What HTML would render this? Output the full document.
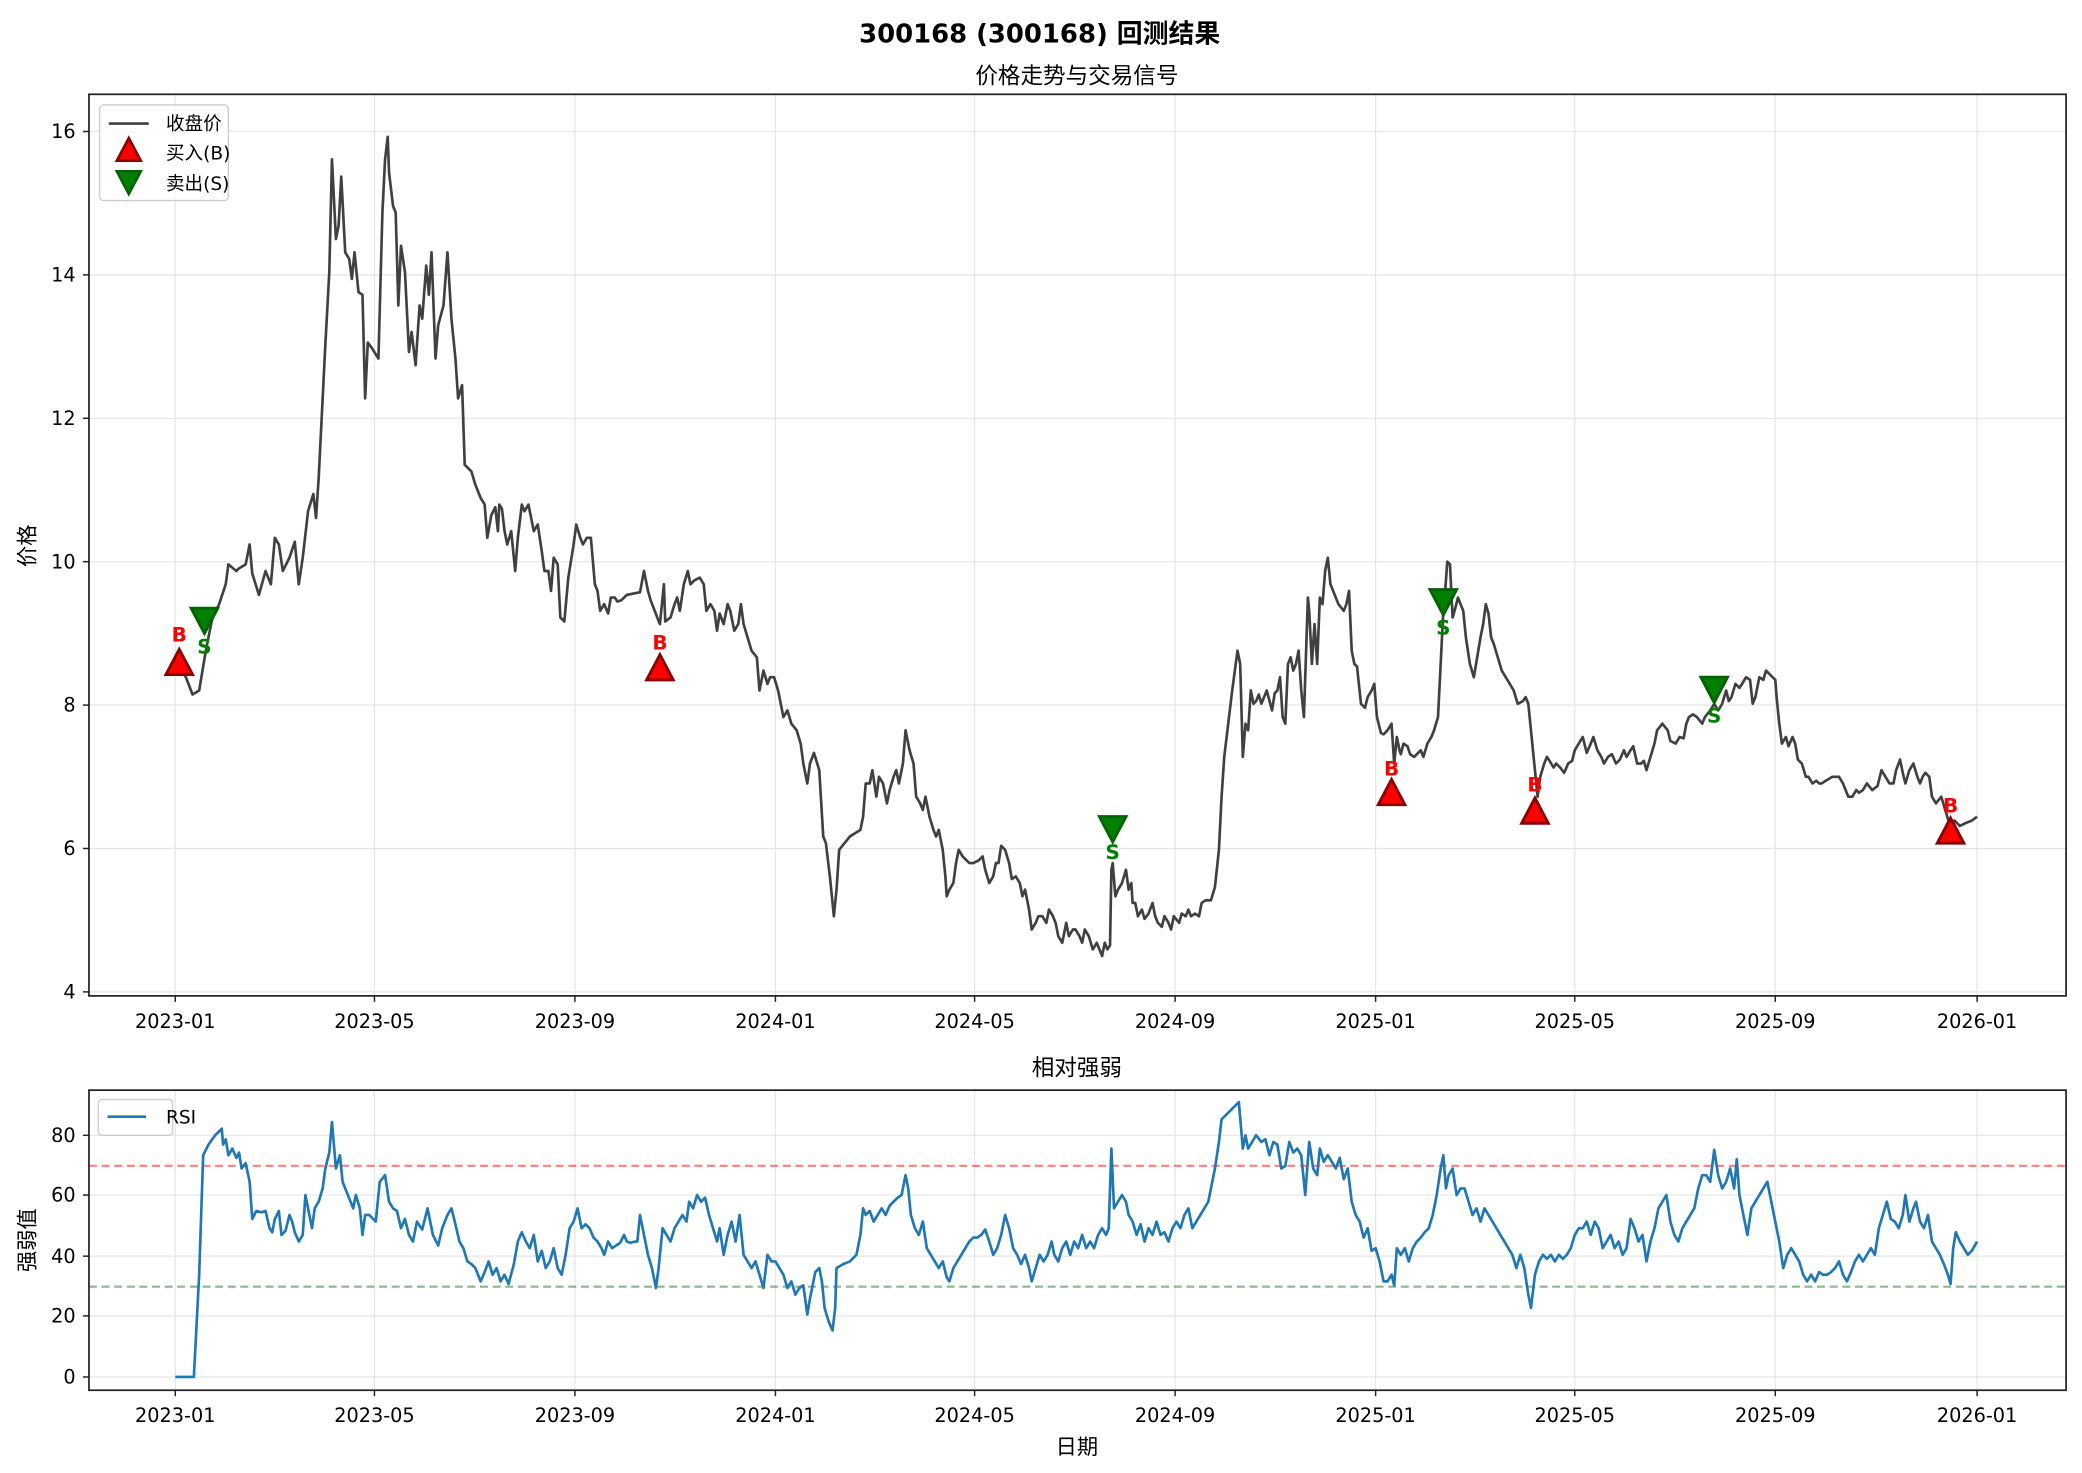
<!DOCTYPE html>
<html><head><meta charset="utf-8"><style>html,body{margin:0;padding:0;background:#fff}svg{display:block}</style></head><body>
<svg width="2082" height="1473" viewBox="0 0 1568 1109.3" xmlns="http://www.w3.org/2000/svg" font-family="'DejaVu Sans','Liberation Sans','Noto Sans CJK SC',sans-serif">
<rect width="1568" height="1110" fill="#fff"/>
<text x="783" y="32" font-size="19.5" font-weight="bold" text-anchor="middle">300168 (300168) 回测结果</text>
<text x="811" y="63" font-size="17" text-anchor="middle">价格走势与交易信号</text>
<g stroke="#e6e6e6" stroke-width="0.9">
<line x1="132" y1="71" x2="132" y2="750"/><line x1="282" y1="71" x2="282" y2="750"/><line x1="433" y1="71" x2="433" y2="750"/><line x1="584" y1="71" x2="584" y2="750"/><line x1="734" y1="71" x2="734" y2="750"/><line x1="885" y1="71" x2="885" y2="750"/><line x1="1036" y1="71" x2="1036" y2="750"/><line x1="1186" y1="71" x2="1186" y2="750"/><line x1="1337" y1="71" x2="1337" y2="750"/><line x1="1489" y1="71" x2="1489" y2="750"/>
<line x1="67" y1="747" x2="1556" y2="747"/><line x1="67" y1="639" x2="1556" y2="639"/><line x1="67" y1="531" x2="1556" y2="531"/><line x1="67" y1="423" x2="1556" y2="423"/><line x1="67" y1="315" x2="1556" y2="315"/><line x1="67" y1="207" x2="1556" y2="207"/><line x1="67" y1="99" x2="1556" y2="99"/>
<line x1="132" y1="821" x2="132" y2="1047"/><line x1="282" y1="821" x2="282" y2="1047"/><line x1="433" y1="821" x2="433" y2="1047"/><line x1="584" y1="821" x2="584" y2="1047"/><line x1="734" y1="821" x2="734" y2="1047"/><line x1="885" y1="821" x2="885" y2="1047"/><line x1="1036" y1="821" x2="1036" y2="1047"/><line x1="1186" y1="821" x2="1186" y2="1047"/><line x1="1337" y1="821" x2="1337" y2="1047"/><line x1="1489" y1="821" x2="1489" y2="1047"/>
<line x1="67" y1="1037" x2="1556" y2="1037"/><line x1="67" y1="991" x2="1556" y2="991"/><line x1="67" y1="946" x2="1556" y2="946"/><line x1="67" y1="900" x2="1556" y2="900"/><line x1="67" y1="855" x2="1556" y2="855"/>
</g>
<polyline fill="none" stroke="#404040" stroke-width="2" stroke-linejoin="round" points="132,498 140,510 145,523 150,520 155,490 160,465 165,455 170,440 172,425 178,430 180,428 185,425 188,410 190,432 195,448 200,430 204,440 207,405 210,410 213,430 218,420 222,408 225,440 228,420 232,385 236,372 238,390 240,360 245,260 248,205 250,120 253,180 255,170 257,133 260,190 263,195 265,210 267,190 270,220 273,222 275,300 277,258 280,262 285,270 288,160 290,120 292,103 293,130 296,155 298,160 300,230 302,185 305,205 308,265 310,250 313,275 316,230 318,240 321,200 323,222 325,190 328,270 330,245 334,230 337,190 340,240 343,270 345,300 348,290 350,350 352,352 355,355 358,365 362,375 365,380 367,405 370,388 373,382 375,400 376,380 378,383 380,400 382,410 385,400 388,430 390,405 393,380 395,385 398,380 400,390 402,400 405,395 408,415 410,430 413,430 415,445 417,420 420,425 422,465 425,468 428,435 432,410 434,395 437,405 439,410 442,405 445,405 448,440 450,445 452,460 455,455 458,462 460,450 463,450 465,453 468,452 472,448 482,446 485,430 488,445 490,452 495,465 497,470 500,440 501,468 505,465 508,455 510,450 512,460 515,440 518,430 520,440 523,437 527,435 530,440 532,460 535,455 538,460 540,475 542,462 545,470 548,455 550,460 553,475 556,470 558,455 560,470 563,480 566,490 570,495 572,520 575,505 578,515 580,510 583,510 586,520 590,540 593,535 596,545 600,550 603,560 605,575 608,590 610,575 613,567 617,580 620,630 622,635 625,660 628,690 630,670 632,640 640,630 648,625 650,615 652,590 655,590 657,580 660,600 662,585 665,590 668,605 670,595 673,585 675,580 677,590 680,575 682,550 685,565 688,575 690,600 693,605 695,610 697,600 700,615 703,625 705,630 707,625 710,640 712,660 713,675 715,670 718,665 720,650 722,640 725,645 728,648 730,650 733,650 737,648 740,645 742,655 745,665 748,660 750,650 752,650 754,637 757,640 760,650 762,662 765,660 768,665 770,675 772,670 775,685 777,700 780,695 782,690 785,690 788,695 790,685 793,690 795,695 797,705 800,710 803,695 805,705 808,700 810,700 813,705 815,710 817,700 820,705 823,715 826,710 828,715 830,720 832,710 834,715 836,712 837,655 838,650 840,675 842,670 845,665 848,655 850,670 852,665 853,680 855,680 857,690 860,685 862,692 865,688 868,680 870,690 872,695 875,698 877,690 880,695 882,700 884,690 888,695 890,688 893,690 895,685 897,690 900,688 903,690 905,680 908,678 912,678 915,668 918,640 920,600 922,570 925,545 928,520 932,490 934,500 936,570 938,545 940,550 942,520 944,530 946,528 948,523 950,530 952,525 954,520 958,535 960,522 962,520 964,510 966,540 968,545 970,500 972,495 974,505 976,500 978,490 980,520 982,540 985,450 986,460 988,500 990,470 992,500 994,450 996,455 998,430 1000,420 1002,440 1004,445 1006,450 1008,455 1012,460 1014,455 1016,445 1018,490 1020,500 1022,502 1025,530 1028,533 1030,525 1033,520 1035,515 1037,540 1040,552 1042,553 1045,550 1048,545 1050,575 1052,555 1054,565 1055,568 1057,560 1060,562 1062,568 1065,570 1068,567 1070,565 1072,570 1075,560 1078,555 1080,550 1083,540 1084,520 1086,480 1087,460 1088,450 1090,423 1092,425 1094,465 1096,458 1098,450 1100,455 1102,460 1104,480 1107,500 1110,510 1112,498 1115,480 1117,470 1119,455 1121,462 1123,480 1125,485 1128,495 1131,505 1134,510 1137,515 1140,520 1143,530 1147,528 1149,525 1151,530 1154,560 1156,580 1158,600 1160,585 1163,575 1165,570 1167,573 1170,578 1172,575 1175,578 1178,582 1181,575 1184,573 1186,565 1189,560 1192,555 1195,567 1198,560 1200,555 1203,565 1206,570 1208,575 1211,570 1214,568 1217,575 1220,572 1223,565 1225,570 1228,565 1230,562 1233,575 1236,575 1238,573 1240,580 1243,570 1246,560 1248,550 1252,545 1256,550 1258,558 1262,560 1265,555 1268,556 1270,545 1272,540 1275,538 1278,540 1282,545 1284,540 1288,535 1291,530 1294,535 1297,530 1300,520 1302,528 1304,525 1307,515 1310,518 1312,515 1315,510 1318,512 1320,530 1322,525 1325,510 1328,512 1330,505 1333,508 1337,512 1338,525 1340,545 1342,560 1345,555 1347,562 1350,555 1352,560 1354,572 1357,575 1360,585 1362,585 1365,590 1368,588 1370,590 1372,590 1375,588 1380,585 1385,585 1388,590 1390,595 1392,600 1395,600 1398,595 1400,597 1403,595 1406,590 1410,595 1414,592 1417,580 1420,585 1423,590 1426,590 1428,580 1431,572 1433,582 1435,590 1438,580 1441,575 1444,585 1446,590 1448,585 1450,582 1453,585 1455,600 1458,605 1462,600 1465,610 1468,620 1472,618 1476,622 1480,620 1485,618 1489,615"/>
<g stroke="#8b0000" stroke-width="2.2" fill="#ff0000">
<polygon points="135,489 125,508 145,508"/><polygon points="497,493 487,512 507,512"/><polygon points="1048,587 1038,606 1058,606"/><polygon points="1156,601 1146,620 1166,620"/><polygon points="1469,616 1459,635 1479,635"/>
</g>
<g stroke="#006400" stroke-width="2.2" fill="#008000">
<polygon points="144,458 164,458 154,477"/><polygon points="828,615 848,615 838,634"/><polygon points="1077,444 1097,444 1087,463"/><polygon points="1281,510 1301,510 1291,529"/>
</g>
<g font-size="15" font-weight="bold" text-anchor="middle" fill="#ff0000">
<text x="135" y="483">B</text><text x="497" y="489">B</text><text x="1048" y="584">B</text><text x="1156" y="596">B</text><text x="1469" y="612">B</text>
</g>
<g font-size="15" font-weight="bold" text-anchor="middle" fill="#008000">
<text x="154" y="492">S</text><text x="838" y="647">S</text><text x="1087" y="478">S</text><text x="1291" y="544">S</text>
</g>
<rect x="67" y="71" width="1489" height="679" fill="none" stroke="#222" stroke-width="1.3"/>
<g font-size="14.5" text-anchor="end">
<text x="57" y="752">4</text><text x="57" y="644">6</text><text x="57" y="536">8</text><text x="57" y="428">10</text><text x="57" y="320">12</text><text x="57" y="212">14</text><text x="57" y="104">16</text>
</g>
<g stroke="#222" stroke-width="1.1"><line x1="62.5" y1="747" x2="67" y2="747"/><line x1="62.5" y1="639" x2="67" y2="639"/><line x1="62.5" y1="531" x2="67" y2="531"/><line x1="62.5" y1="423" x2="67" y2="423"/><line x1="62.5" y1="315" x2="67" y2="315"/><line x1="62.5" y1="207" x2="67" y2="207"/><line x1="62.5" y1="99" x2="67" y2="99"/>
<line x1="132" y1="750" x2="132" y2="754.5"/><line x1="282" y1="750" x2="282" y2="754.5"/><line x1="433" y1="750" x2="433" y2="754.5"/><line x1="584" y1="750" x2="584" y2="754.5"/><line x1="734" y1="750" x2="734" y2="754.5"/><line x1="885" y1="750" x2="885" y2="754.5"/><line x1="1036" y1="750" x2="1036" y2="754.5"/><line x1="1186" y1="750" x2="1186" y2="754.5"/><line x1="1337" y1="750" x2="1337" y2="754.5"/><line x1="1489" y1="750" x2="1489" y2="754.5"/>
<line x1="132" y1="1047" x2="132" y2="1051.5"/><line x1="282" y1="1047" x2="282" y2="1051.5"/><line x1="433" y1="1047" x2="433" y2="1051.5"/><line x1="584" y1="1047" x2="584" y2="1051.5"/><line x1="734" y1="1047" x2="734" y2="1051.5"/><line x1="885" y1="1047" x2="885" y2="1051.5"/><line x1="1036" y1="1047" x2="1036" y2="1051.5"/><line x1="1186" y1="1047" x2="1186" y2="1051.5"/><line x1="1337" y1="1047" x2="1337" y2="1051.5"/><line x1="1489" y1="1047" x2="1489" y2="1051.5"/></g>
<g font-size="14.5" text-anchor="middle">
<text x="132" y="774">2023-01</text><text x="282" y="774">2023-05</text><text x="433" y="774">2023-09</text><text x="584" y="774">2024-01</text><text x="734" y="774">2024-05</text><text x="885" y="774">2024-09</text><text x="1036" y="774">2025-01</text><text x="1186" y="774">2025-05</text><text x="1337" y="774">2025-09</text><text x="1489" y="774">2026-01</text>
</g>
<text transform="translate(26,411) rotate(-90)" font-size="16" text-anchor="middle">价格</text>
<rect x="75" y="79" width="97" height="72" rx="3" fill="#fff" fill-opacity="0.8" stroke="#ccc"/>
<line x1="82" y1="93" x2="112" y2="93" stroke="#404040" stroke-width="2"/>
<polygon points="97,104 88,121 106,121" fill="#ff0000" stroke="#8b0000" stroke-width="2"/>
<polygon points="88,129 106,129 97,146" fill="#008000" stroke="#006400" stroke-width="2"/>
<g font-size="14"><text x="125" y="98">收盘价</text><text x="125" y="120">买入(B)</text><text x="125" y="143">卖出(S)</text></g>
<text x="811" y="810" font-size="17" text-anchor="middle">相对强弱</text>
<line x1="67" y1="878" x2="1556" y2="878" stroke="#ff0000" stroke-opacity="0.5" stroke-width="1.6" stroke-dasharray="6,3.5"/>
<line x1="67" y1="969" x2="1556" y2="969" stroke="#008000" stroke-opacity="0.5" stroke-width="1.6" stroke-dasharray="6,3.5"/>
<polyline fill="none" stroke="#1f77b4" stroke-width="2" stroke-linejoin="round" points="132,1037 146,1037 150,960 153,870 157,862 162,855 167,850 168,862 170,858 172,870 175,865 178,872 180,868 182,880 185,876 188,890 190,918 193,912 197,913 200,912 203,925 205,928 207,918 210,912 212,930 215,927 218,915 220,920 222,928 225,935 228,930 230,900 233,915 235,925 237,910 240,905 243,895 245,880 248,868 250,845 253,880 256,870 258,890 262,900 266,910 268,900 271,910 273,930 275,915 278,915 283,920 286,890 290,885 293,905 296,910 299,912 302,925 305,918 308,930 311,935 314,920 318,926 322,910 326,930 330,938 333,925 337,915 340,910 343,922 346,935 349,940 352,950 355,952 358,955 362,965 365,958 368,950 371,960 374,955 377,965 380,960 383,967 387,952 390,935 393,928 396,935 399,940 402,930 405,950 408,942 411,955 414,950 417,940 420,955 423,960 426,945 429,925 432,920 435,910 438,925 441,922 444,925 447,932 450,935 453,940 455,945 458,935 461,940 464,938 467,936 470,930 472,935 475,936 478,935 480,935 482,915 485,930 488,945 491,955 494,970 496,955 499,925 502,930 505,935 508,925 511,920 514,915 517,920 519,905 522,910 525,900 528,905 531,902 534,915 537,925 540,935 542,925 545,945 548,930 551,920 554,935 557,915 560,945 563,950 566,955 569,950 572,960 575,970 578,945 581,950 584,950 587,955 590,960 593,970 596,965 599,975 602,970 605,968 608,990 610,978 612,968 614,958 617,955 619,965 621,985 624,995 627,1002 629,985 630,955 635,952 640,950 645,945 648,930 650,910 652,915 655,912 658,920 661,915 664,910 667,915 670,908 673,905 676,902 679,900 682,885 684,895 686,915 689,925 692,930 695,920 698,940 701,945 704,950 707,955 710,950 713,962 715,965 718,955 721,950 724,945 727,940 730,935 733,932 736,932 739,930 742,926 745,935 748,945 751,940 754,930 757,915 760,925 763,940 766,945 769,952 772,945 775,955 777,965 780,955 783,945 786,950 789,945 792,935 794,945 797,950 800,940 803,935 806,945 809,935 812,940 815,930 818,940 821,935 824,940 827,930 830,925 833,930 835,925 837,865 839,910 842,905 845,900 848,905 850,915 853,920 856,930 859,922 862,935 865,925 868,930 871,920 874,930 877,928 880,935 883,925 886,920 889,925 892,915 895,910 898,925 901,920 904,915 907,910 910,905 912,895 915,880 918,860 920,843 925,838 930,833 933,830 936,865 938,855 940,865 943,860 946,855 950,860 953,858 956,870 959,860 962,862 965,880 968,878 971,860 974,868 977,865 980,870 983,900 986,860 989,880 992,885 994,865 997,875 1000,870 1003,875 1006,880 1009,872 1012,888 1015,880 1018,905 1021,915 1024,920 1027,932 1030,925 1033,942 1036,940 1039,950 1042,965 1045,965 1048,960 1050,968 1052,940 1055,945 1058,940 1061,950 1064,940 1067,935 1070,932 1073,928 1076,925 1079,915 1082,900 1085,880 1087,870 1089,895 1091,885 1094,880 1097,900 1100,895 1103,895 1106,905 1109,915 1112,910 1115,920 1118,910 1121,915 1124,920 1127,925 1130,930 1133,935 1136,940 1139,945 1142,955 1145,945 1148,955 1151,975 1153,985 1156,960 1159,950 1162,945 1165,948 1168,945 1171,950 1174,945 1177,948 1180,945 1183,940 1186,930 1189,925 1192,925 1195,920 1198,930 1201,920 1204,925 1207,940 1210,935 1213,930 1216,940 1219,935 1222,945 1225,940 1228,918 1231,925 1234,935 1237,930 1240,950 1243,935 1246,925 1249,910 1252,905 1255,900 1258,920 1261,930 1264,935 1267,925 1270,920 1273,915 1276,910 1279,895 1282,885 1285,885 1288,890 1291,866 1294,885 1297,895 1300,890 1303,880 1306,895 1308,873 1310,900 1313,915 1316,930 1319,910 1322,905 1325,900 1328,895 1331,890 1334,905 1337,920 1340,935 1343,955 1346,945 1349,940 1352,945 1355,950 1358,960 1361,965 1364,960 1367,965 1370,958 1373,960 1376,960 1379,958 1382,955 1385,950 1388,960 1391,965 1394,958 1397,950 1400,945 1403,950 1406,945 1409,940 1412,945 1415,925 1418,915 1421,905 1424,918 1427,920 1430,925 1433,915 1435,900 1438,920 1441,910 1443,905 1446,920 1449,925 1452,915 1455,935 1458,940 1461,945 1464,952 1467,960 1469,967 1471,940 1473,928 1476,935 1479,940 1482,945 1485,942 1489,935"/>
<rect x="67" y="821" width="1489" height="226" fill="none" stroke="#222" stroke-width="1.3"/>
<g font-size="14.5" text-anchor="end">
<text x="57" y="1042">0</text><text x="57" y="996">20</text><text x="57" y="951">40</text><text x="57" y="905">60</text><text x="57" y="860">80</text>
</g>
<g stroke="#222" stroke-width="1.1"><line x1="62.5" y1="1037" x2="67" y2="1037"/><line x1="62.5" y1="991" x2="67" y2="991"/><line x1="62.5" y1="946" x2="67" y2="946"/><line x1="62.5" y1="900" x2="67" y2="900"/><line x1="62.5" y1="855" x2="67" y2="855"/></g>
<g font-size="14.5" text-anchor="middle">
<text x="132" y="1071">2023-01</text><text x="282" y="1071">2023-05</text><text x="433" y="1071">2023-09</text><text x="584" y="1071">2024-01</text><text x="734" y="1071">2024-05</text><text x="885" y="1071">2024-09</text><text x="1036" y="1071">2025-01</text><text x="1186" y="1071">2025-05</text><text x="1337" y="1071">2025-09</text><text x="1489" y="1071">2026-01</text>
</g>
<text transform="translate(26,934) rotate(-90)" font-size="16" text-anchor="middle">强弱值</text>
<text x="811" y="1095" font-size="16" text-anchor="middle">日期</text>
<rect x="74" y="828" width="56" height="27" rx="3" fill="#fff" fill-opacity="0.8" stroke="#ccc"/>
<line x1="81" y1="841" x2="110" y2="841" stroke="#1f77b4" stroke-width="2"/>
<text x="125" y="846" font-size="14">RSI</text>
</svg>
</body></html>
